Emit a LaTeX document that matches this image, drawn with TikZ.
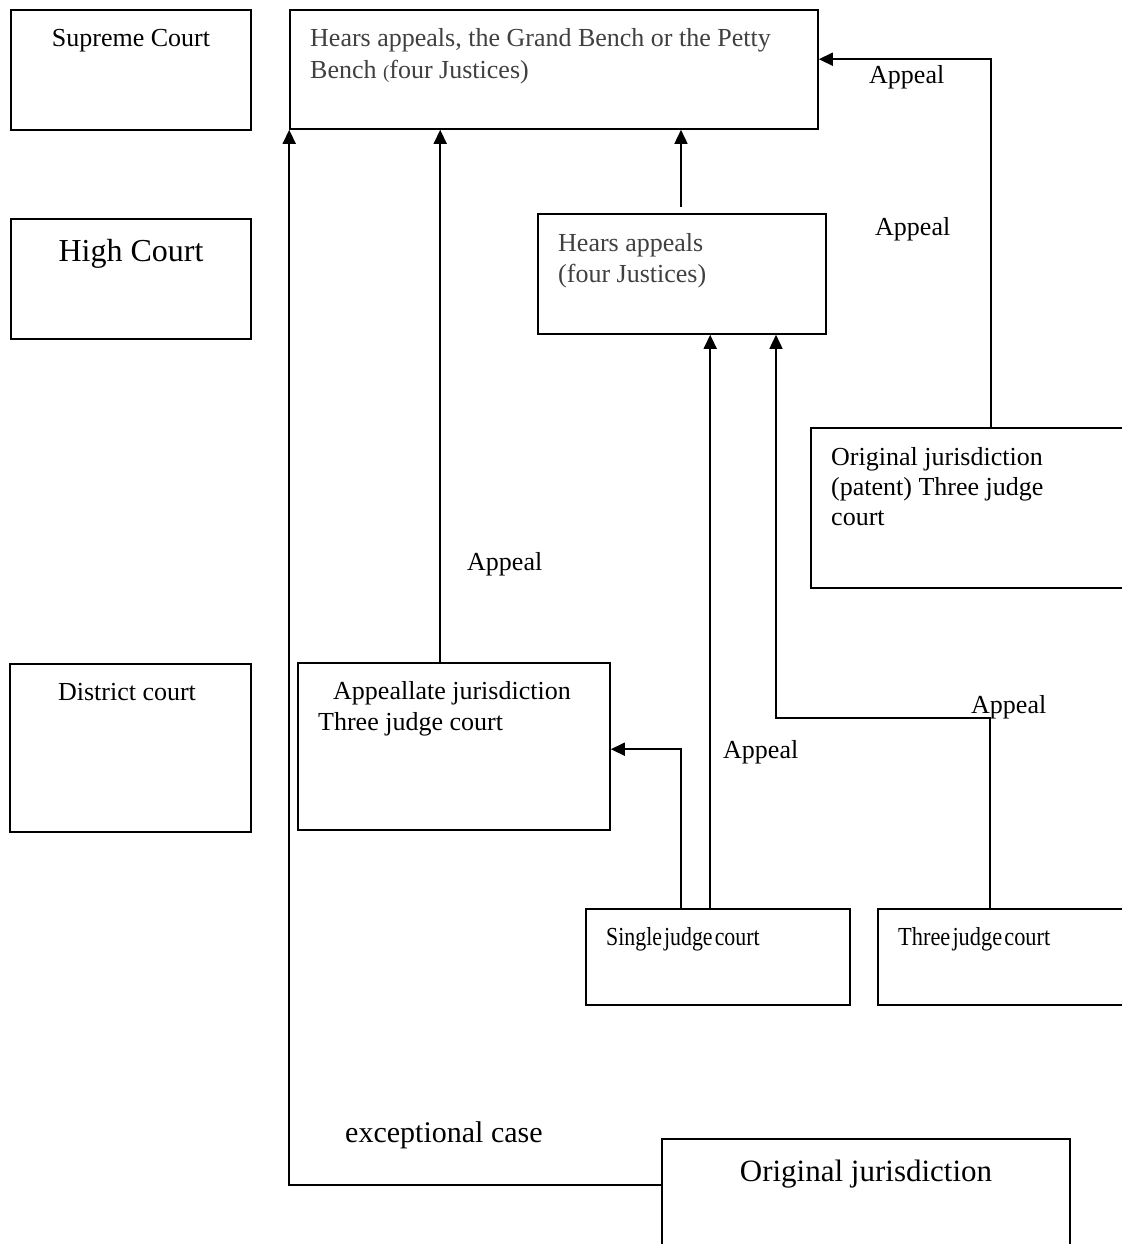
\documentclass[tikz,border=0pt]{standalone}
\usepackage{fontspec}
\usepackage{graphicx}
\setmainfont{Liberation Serif}
\usetikzlibrary{arrows.meta,calc}
\definecolor{greytxt}{HTML}{404040}
\begin{document}
\begin{tikzpicture}[x=1pt,y=-1pt,
  box/.style={draw, line width=1.6pt, inner sep=0pt, rectangle},
  arr/.style={line width=1.6pt, -{Triangle[length=14pt,width=13pt]}},
  txt/.style={inner sep=0pt, anchor=base west, font=\fontsize{26}{31}\selectfont},
  ctxt/.style={inner sep=0pt, anchor=base, font=\fontsize{26}{31}\selectfont},
  big/.style={font=\fontsize{32}{38}\selectfont},
  gtxt/.style={text=greytxt}]
\useasboundingbox (0,0) rectangle (1121,1244);
\fill[white] (0,0) rectangle (1121,1244);

% left column
\node[box, minimum width=240pt, minimum height=120pt] (scl) at (131,70) {};
\node[box, minimum width=240pt, minimum height=120pt] (hcl) at (131,279) {};
\node[box, minimum width=241pt, minimum height=168pt] (dcl) at (130.5,748) {};
\node[ctxt] (t-scl) at (131,47) {Supreme Court};
\node[ctxt, big] (t-hcl) at (131,261) {High Court};
\node[ctxt] (t-dcl) at (127,700) {District court};

% main boxes
\node[box, minimum width=528pt, minimum height=119pt] (sc) at (554,69.5) {};
\node[box, minimum width=288pt, minimum height=120pt] (hc) at (682,274) {};
\node[box, minimum width=314pt, minimum height=160pt] (oj) at (968,508) {};
\node[box, minimum width=312pt, minimum height=167pt] (aj) at (454,746.5) {};
\node[box, minimum width=264pt, minimum height=96pt] (sj) at (718,957) {};
\node[box, minimum width=247pt, minimum height=96pt] (tj) at (1001.5,957) {};
\node[box, minimum width=408pt, minimum height=111pt] (ob) at (866,1194.5) {};

% texts in boxes
\node[txt, gtxt] (t-sc1) at (310,47) {Hears appeals, the Grand Bench or the Petty};
\node[txt, gtxt] (t-sc2) at (310,79) {Bench {\fontsize{19}{24}\selectfont(}four Justices)};
\node[txt, gtxt] (t-hc1) at (558,251) {Hears appeals};
\node[txt, gtxt] (t-hc2) at (558,282) {(four Justices)};
\node[txt] (t-oj1) at (831,465) {Original jurisdiction};
\node[txt] (t-oj2) at (831,495) {(patent) Three judge};
\node[txt] (t-oj3) at (831,525) {court};
\node[txt] (t-aj1) at (333,699) {Appeallate jurisdiction};
\node[txt] (t-aj2) at (318,730) {Three judge court};
\node[txt] (t-sj) at (606,945) {\scalebox{0.84}[1]{Single\kern-4pt{} judge\kern-4pt{} court}};
\node[txt] (t-tj) at (898,945) {\scalebox{0.86}[1]{Three\kern-4pt{} judge\kern-4pt{} court}};
\node[ctxt, font=\fontsize{31}{37}\selectfont] (t-ob) at (866,1181) {Original jurisdiction};

% connector labels
\node[txt] (l1) at (869,84) {Appeal};
\node[txt] (l2) at (875,235) {Appeal};
\node[txt] (l3) at (467,570) {Appeal};
\node[txt] (l4) at (723,758) {Appeal};
\node[txt] (l5) at (971,713) {Appeal};
\node[txt, font=\fontsize{30}{36}\selectfont] (l6) at (345,1142) {exceptional case};

% connectors
\coordinate (e0) at ($(ob.north west)+(0,47)$);
\draw[arr] (e0) -| (sc.south west);

\coordinate (p1) at ($(aj.north west)+(143,0)$);
\draw[arr] (p1) -- (p1 |- sc.south);

\coordinate (p2) at ($(hc.north)+(-1,-6)$);
\draw[arr] (p2) -- (p2 |- sc.south);

\coordinate (p3) at ($(oj.north)+(23,0)$);
\coordinate (p3b) at ($(sc.north east)+(0,50)$);
\draw[arr] (p3) |- (p3b);

\coordinate (p4) at ($(sj.north west)+(96,0)$);
\coordinate (p4b) at ($(aj.north east)+(0,87)$);
\draw[arr] (p4) |- (p4b);

\coordinate (p5) at ($(sj.north west)+(125,0)$);
\draw[arr] (p5) -- (p5 |- hc.south);

\coordinate (p6) at ($(tj.north west)+(113,0)$);
\coordinate (q6) at (776,718);
\draw[arr] (p6) |- (q6) -- (q6 |- hc.south);
\end{tikzpicture}
\end{document}
